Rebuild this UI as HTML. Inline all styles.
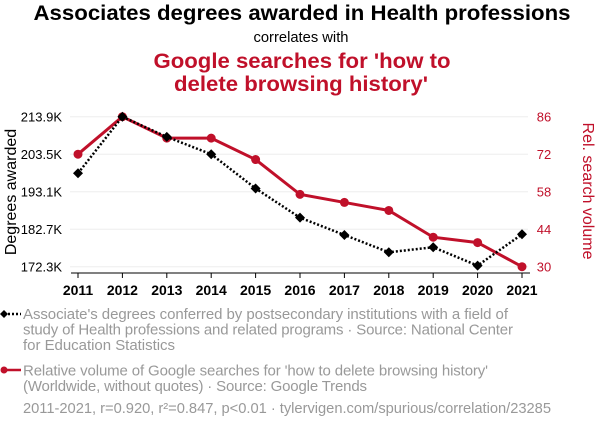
<!DOCTYPE html>
<html><head><meta charset="utf-8"><style>
body{margin:0;width:600px;height:430px;background:#fff;font-family:"Liberation Sans",sans-serif;overflow:hidden}
svg text{font-family:"Liberation Sans",sans-serif}
</style></head><body>
<svg id="c" width="600" height="430">
<text x="302" y="20" text-anchor="middle" font-size="21.5" font-weight="bold" fill="#000" textLength="537" lengthAdjust="spacingAndGlyphs">Associates degrees awarded in Health professions</text>
<text x="301" y="42" text-anchor="middle" font-size="14.5" fill="#000" textLength="95" lengthAdjust="spacingAndGlyphs">correlates with</text>
<text x="302" y="68" text-anchor="middle" font-size="21.5" font-weight="bold" fill="#c0102a" textLength="297" lengthAdjust="spacingAndGlyphs">Google searches for 'how to</text>
<text x="301" y="91" text-anchor="middle" font-size="21.5" font-weight="bold" fill="#c0102a" textLength="254" lengthAdjust="spacingAndGlyphs">delete browsing history'</text>
<text transform="translate(16,192) rotate(-90)" text-anchor="middle" font-size="16" fill="#000">Degrees awarded</text>
<text transform="translate(583,191) rotate(90)" text-anchor="middle" font-size="16" fill="#c0102a">Rel. search volume</text>
<g id="plot"></g>
<g>
<line x1="4" y1="314" x2="21" y2="314" stroke="#000" stroke-width="2.5" stroke-dasharray="2,2"/>
<path d="M4 310 L8 314 L4 318 L0 314Z" fill="#000"/>
<text font-size="15" fill="#999" lengthAdjust="spacingAndGlyphs"><tspan x="23" y="319" textLength="485">Associate's degrees conferred by postsecondary institutions with a field of</tspan><tspan x="23" y="334.5" textLength="490">study of Health professions and related programs · Source: National Center</tspan><tspan x="23" y="350" textLength="152">for Education Statistics</tspan></text>
<line x1="4" y1="370" x2="21" y2="370" stroke="#c0102a" stroke-width="2.5"/>
<circle cx="4" cy="370" r="3.5" fill="#c0102a"/>
<text font-size="15" fill="#999"><tspan x="23" y="375.5" textLength="465">Relative volume of Google searches for 'how to delete browsing history'</tspan><tspan x="23" y="391" textLength="344">(Worldwide, without quotes) · Source: Google Trends</tspan></text>
<text x="23" y="413" font-size="14.7" fill="#999" textLength="528">2011-2021, r=0.920, r²=0.847, p&lt;0.01 · tylervigen.com/spurious/correlation/23285</text>
</g>
</svg>
<script>
const years=[2011,2012,2013,2014,2015,2016,2017,2018,2019,2020,2021];
const degrees=[198.2,213.9,208.3,203.5,194.0,185.9,181.1,176.3,177.7,172.6,181.3];
const searches=[72,86,78,78,70,57,54,51,41,39,30];
const leftTicks=[172.3,182.7,193.1,203.5,213.9];
const leftTickLabels=["172.3K","182.7K","193.1K","203.5K","213.9K"];
const rightTicks=[30,44,58,72,86];
const NS="http://www.w3.org/2000/svg";
const g=document.getElementById('plot');
const X0=78,X1=522,YT=116.7,YB=266.7;
const xs=i=>X0+(X1-X0)*i/(years.length-1);
const yl=v=>YB-(v-172.3)/(213.9-172.3)*(YB-YT);
const yr=v=>YB-(v-30)/(86-30)*(YB-YT);
function mk(t,a){const e=document.createElementNS(NS,t);for(const k in a)e.setAttribute(k,a[k]);g.appendChild(e);return e;}
leftTicks.forEach((v,i)=>{
 const l=mk('line',{x1:70,x2:528,y1:yl(v),y2:yl(v),stroke:'#eee','stroke-width':1});
 
 
 const t=mk('text',{x:62,y:yl(v)+5,'text-anchor':'end','font-size':13,fill:'#000'});
 t.textContent=leftTickLabels[i];
 
 
});
rightTicks.forEach(v=>{
 const t=mk('text',{x:544,y:yr(v)+5,'text-anchor':'middle','font-size':13,fill:'#c0102a'});
 t.textContent=v;
 
 
});
const ax=mk('line',{x1:71,x2:530,y1:273,y2:273,stroke:'#000','stroke-width':1});


years.forEach((y,i)=>{
 mk('line',{x1:xs(i),x2:xs(i),y1:273,y2:278,stroke:'#000'});
 const t=mk('text',{x:xs(i),y:295,'text-anchor':'middle','font-size':14,'font-weight':'bold',fill:'#000'});
 t.textContent=y;
 
 
});
const rl=mk('polyline',{points:searches.map((v,i)=>xs(i)+','+yr(v)).join(' '),fill:'none',stroke:'#c0102a','stroke-width':3});


searches.forEach((v,i)=>{
 const c=mk('circle',{cx:xs(i),cy:yr(v),r:4.5,fill:'#c0102a'});
 
 
});
const bl=mk('polyline',{points:degrees.map((v,i)=>xs(i)+','+yl(v)).join(' '),fill:'none',stroke:'#000','stroke-width':2.5,'stroke-dasharray':'2,2'});


degrees.forEach((v,i)=>{
 const x=xs(i),y=yl(v);
 const p=mk('path',{d:`M${x} ${y-5}L${x+5} ${y}L${x} ${y+5}L${x-5} ${y}Z`,fill:'#000'});
 
 
});
</script>
</body></html>
